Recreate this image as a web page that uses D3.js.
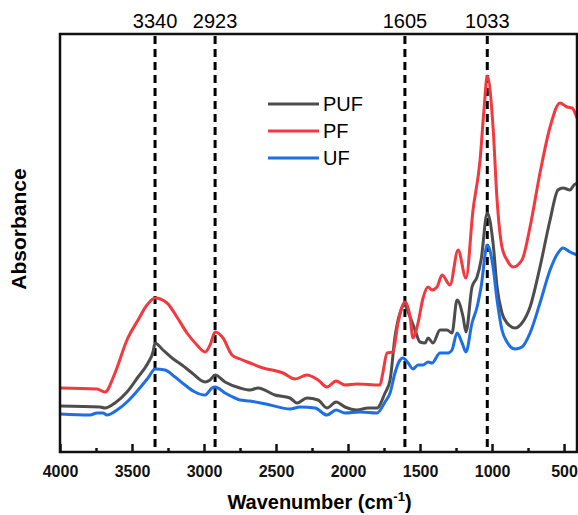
<!DOCTYPE html>
<html>
<head>
<meta charset="utf-8">
<script src="https://cdn.jsdelivr.net/npm/d3@7"></script>
<style>
  body { margin: 0; background: #fff; }
  text { font-family: "Liberation Sans", Arial, sans-serif; }
</style>
</head>
<body>
<div id="chart"></div>
<script>
var margin = { top: 34, right: 1, bottom: 63, left: 60 },
    svg_width = 578,
    svg_height = 515,
    chart_width = svg_width - margin.left - margin.right,
    chart_height = svg_height - margin.top - margin.bottom;

// spectra: [wavenumber (cm-1), absorbance (a.u.)]
var pf = [
  [4000, 0.64], [3743, 0.63], [3688, 0.60], [3618, 0.79], [3535, 1.12], [3458, 1.32],
  [3396, 1.47], [3340, 1.54], [3257, 1.49], [3188, 1.35], [3118, 1.19], [3049, 1.07],
  [2993, 1.00], [2958, 1.07], [2923, 1.20], [2868, 1.14], [2806, 0.97], [2750, 0.93],
  [2681, 0.89], [2590, 0.84], [2451, 0.79], [2368, 0.73], [2285, 0.77], [2208, 0.72],
  [2146, 0.65], [2083, 0.71], [2021, 0.67], [1938, 0.68], [1778, 0.67], [1757, 0.80],
  [1729, 0.99], [1688, 1.00], [1653, 1.29], [1604, 1.50], [1569, 1.35], [1549, 1.14],
  [1514, 1.29], [1479, 1.54], [1444, 1.65], [1417, 1.62], [1382, 1.65], [1347, 1.77],
  [1292, 1.67], [1236, 2.02], [1181, 1.74], [1132, 2.42], [1083, 2.92], [1056, 3.42],
  [1033, 3.76], [993, 3.25], [965, 2.52], [931, 2.05], [896, 1.92], [854, 1.85],
  [792, 1.92], [736, 2.25], [667, 2.79], [597, 3.25], [528, 3.49], [479, 3.45],
  [444, 3.44], [410, 3.34]
];
var puf = [
  [4000, 0.46], [3722, 0.45], [3688, 0.44], [3618, 0.49], [3535, 0.60], [3458, 0.75],
  [3389, 0.89], [3354, 1.00], [3340, 1.09], [3285, 1.02], [3222, 0.94], [3153, 0.87],
  [3083, 0.79], [2993, 0.70], [2958, 0.72], [2923, 0.77], [2854, 0.70], [2750, 0.64],
  [2681, 0.62], [2625, 0.64], [2507, 0.57], [2403, 0.54], [2354, 0.49], [2285, 0.54],
  [2208, 0.52], [2146, 0.44], [2083, 0.50], [2021, 0.45], [1938, 0.42], [1861, 0.44],
  [1799, 0.44], [1743, 0.59], [1708, 0.72], [1674, 1.15], [1639, 1.39], [1611, 1.47],
  [1569, 1.35], [1535, 1.22], [1500, 1.10], [1465, 1.09], [1444, 1.14], [1410, 1.09],
  [1361, 1.22], [1313, 1.22], [1278, 1.19], [1243, 1.52], [1201, 1.35], [1181, 1.20],
  [1139, 1.65], [1104, 1.75], [1076, 1.92], [1033, 2.39], [993, 2.09], [965, 1.65],
  [931, 1.39], [896, 1.29], [840, 1.24], [792, 1.29], [736, 1.45], [667, 1.85],
  [597, 2.32], [542, 2.62], [507, 2.64], [458, 2.62], [431, 2.67], [410, 2.69]
];
var uf = [
  [4000, 0.38], [3792, 0.37], [3743, 0.39], [3701, 0.39], [3674, 0.37], [3604, 0.42],
  [3535, 0.50], [3458, 0.62], [3389, 0.74], [3340, 0.83], [3271, 0.82], [3201, 0.75],
  [3132, 0.67], [3063, 0.60], [2993, 0.57], [2944, 0.64], [2923, 0.65], [2854, 0.59],
  [2785, 0.54], [2750, 0.52], [2681, 0.51], [2542, 0.47], [2403, 0.43], [2333, 0.45],
  [2229, 0.44], [2146, 0.37], [2083, 0.42], [2021, 0.39], [1917, 0.40], [1799, 0.39],
  [1743, 0.50], [1708, 0.59], [1674, 0.79], [1639, 0.92], [1618, 0.94], [1583, 0.89],
  [1549, 0.83], [1514, 0.87], [1479, 0.87], [1444, 0.90], [1417, 0.89], [1361, 0.99],
  [1306, 0.99], [1278, 1.02], [1243, 1.19], [1208, 1.09], [1181, 1.00], [1139, 1.29],
  [1104, 1.45], [1076, 1.65], [1033, 2.07], [993, 1.85], [965, 1.52], [931, 1.22],
  [896, 1.10], [840, 1.03], [792, 1.05], [736, 1.19], [667, 1.49], [597, 1.82],
  [542, 1.99], [507, 2.04], [458, 2.00], [410, 1.97]
];

var series = [
  { name: 'PUF', color: '#4d4d4d', values: puf },
  { name: 'PF', color: '#f2393f', values: pf },
  { name: 'UF', color: '#1d6fe3', values: uf }
];
var peaks = [3340, 2923, 1605, 1033];
var xTicks = [4000, 3500, 3000, 2500, 2000, 1500, 1000, 500];
var xMinor = [3750, 3250, 2750, 2250, 1750, 1250, 750];

var svg = d3.select('#chart')
    .append('svg')
    .attr('width', svg_width)
    .attr('height', svg_height);

var chartGroup = svg.append('g')
    .attr('transform', `translate(${margin.left}, ${margin.top})`);

var xScale = d3.scaleLinear()
    .domain([4000, 410])
    .range([0, chart_width]);

var yScale = d3.scaleLinear()
    .domain([0, 4.18])
    .range([chart_height, 0]);

// dashed peak markers
chartGroup.append('g')
    .selectAll('line')
    .data(peaks)
    .enter()
    .append('line')
    .attr('x1', d => xScale(d))
    .attr('x2', d => xScale(d))
    .attr('y1', 2)
    .attr('y2', chart_height)
    .style('stroke', '#000')
    .style('stroke-width', 3)
    .style('stroke-dasharray', '8,5');

chartGroup.append('g')
    .selectAll('text')
    .data(peaks)
    .enter()
    .append('text')
    .attr('x', d => xScale(d))
    .attr('y', -6)
    .attr('text-anchor', 'middle')
    .style('font-size', '20px')
    .text(d => d);

var line = d3.line()
    .x(d => xScale(d[0]))
    .y(d => yScale(d[1]))
    .curve(d3.curveMonotoneX);

chartGroup.append('g')
    .selectAll('path')
    .data(series)
    .enter()
    .append('path')
    .attr('d', d => line(d.values))
    .style('fill', 'none')
    .style('stroke', d => d.color)
    .style('stroke-width', 3)
    .style('stroke-linejoin', 'round');

// frame
chartGroup.append('rect')
    .attr('width', chart_width)
    .attr('height', chart_height)
    .style('fill', 'none')
    .style('stroke', '#111')
    .style('stroke-width', 2.5);

// x axis, ticks inward
var xAxis = d3.axisBottom(xScale)
    .tickValues(xTicks)
    .tickFormat(d3.format('d'))
    .tickSizeInner(-8)
    .tickSizeOuter(0)
    .tickPadding(14);

var xg = chartGroup.append('g')
    .attr('transform', `translate(0, ${chart_height})`)
    .call(xAxis);
xg.select('.domain').remove();
xg.selectAll('line').style('stroke', '#111').style('stroke-width', 2.5);
xg.selectAll('text')
    .style('font-family', '"Liberation Sans", Arial, sans-serif')
    .style('font-size', '16px')
    .style('font-weight', 'bold')
    .style('fill', '#111');

var xgMinor = chartGroup.append('g')
    .attr('transform', `translate(0, ${chart_height})`)
    .call(d3.axisBottom(xScale).tickValues(xMinor).tickSizeInner(-4).tickSizeOuter(0).tickFormat(''));
xgMinor.select('.domain').remove();
xgMinor.selectAll('line').style('stroke', '#111').style('stroke-width', 2.5);

// axis titles
var xTitle = svg.append('text')
    .attr('x', margin.left + chart_width / 2 + 1)
    .attr('y', 509)
    .attr('text-anchor', 'middle')
    .style('font-size', '20px')
    .style('font-weight', 'bold');
xTitle.append('tspan').text('Wavenumber (cm');
xTitle.append('tspan').attr('dy', -8).style('font-size', '13px').text('-1');
xTitle.append('tspan').attr('dy', 8).text(')');

svg.append('text')
    .attr('transform', 'translate(26, 229) rotate(-90)')
    .attr('text-anchor', 'middle')
    .style('font-size', '21px')
    .style('font-weight', 'bold')
    .text('Absorbance');

// legend
var legend = chartGroup.append('g')
    .attr('transform', 'translate(208, 70)');

var items = legend.selectAll('g')
    .data(series)
    .enter()
    .append('g')
    .attr('transform', (d, i) => `translate(0, ${i * 27})`);

items.append('line')
    .attr('x1', 0)
    .attr('x2', 51)
    .style('stroke', d => d.color)
    .style('stroke-width', 3);

items.append('text')
    .attr('x', 55)
    .attr('y', 7)
    .style('font-size', '20px')
    .text(d => d.name);
</script>
</body>
</html>
